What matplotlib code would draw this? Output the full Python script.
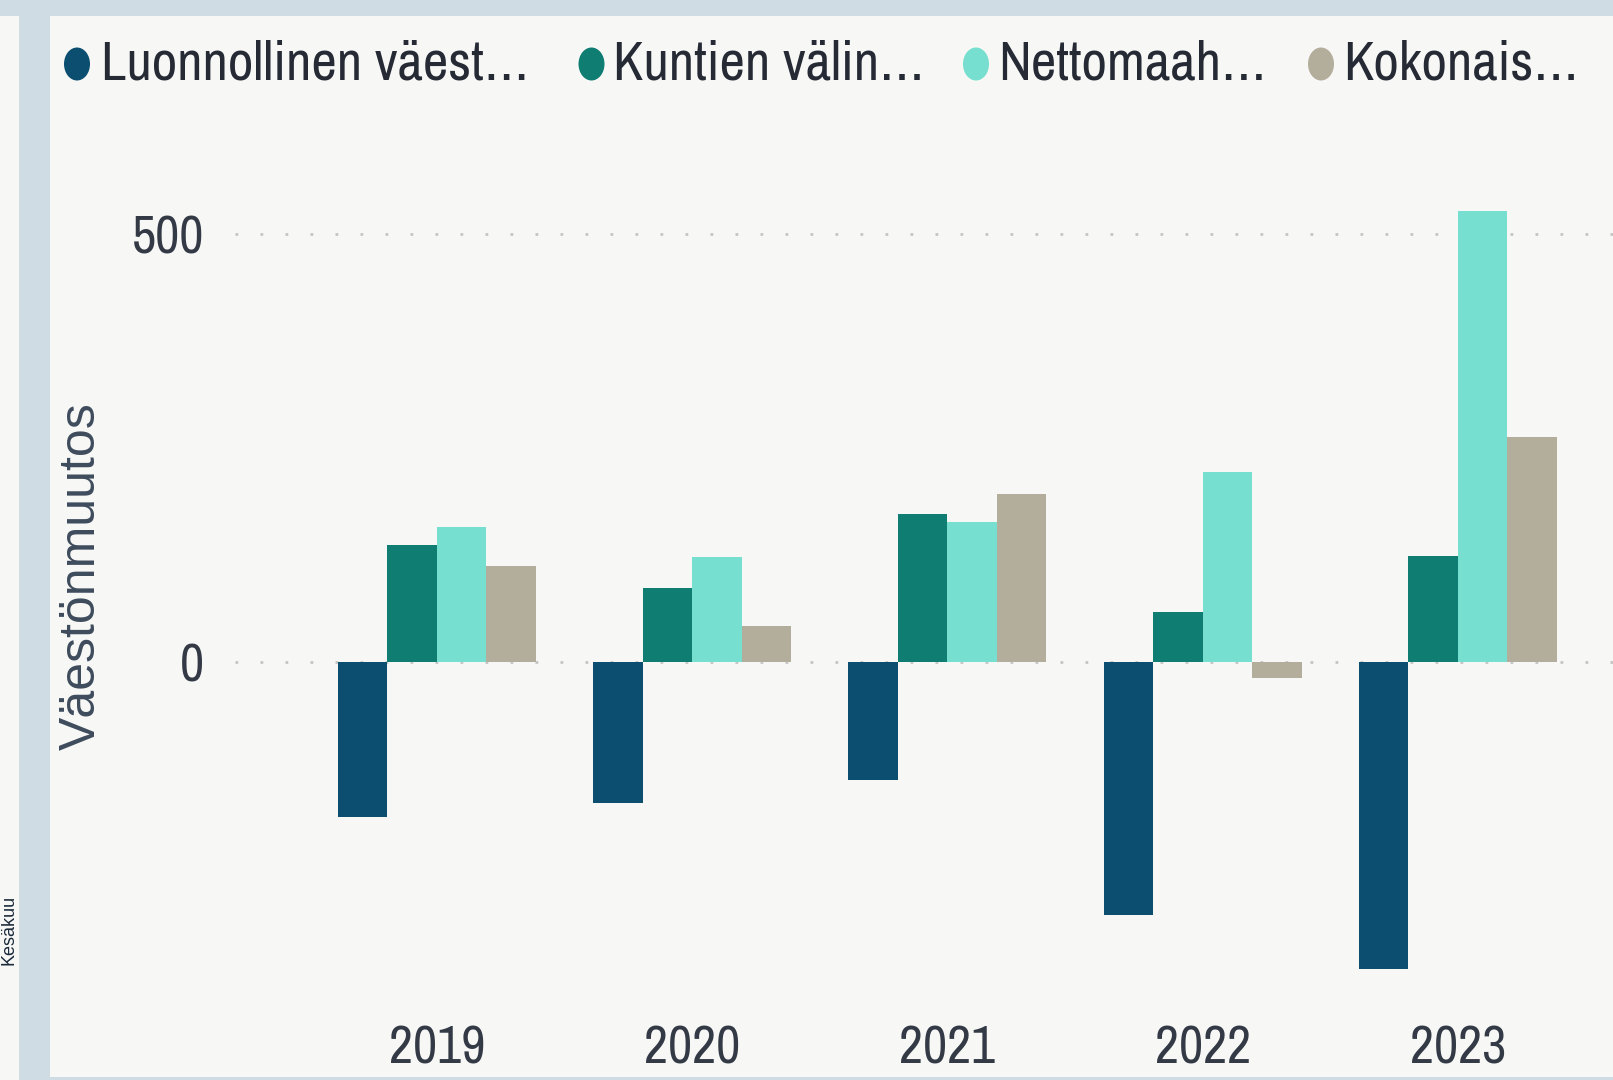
import matplotlib
matplotlib.use("Agg")
import matplotlib.pyplot as plt
import numpy as np
from matplotlib.patches import Rectangle, Ellipse

years = ["2019", "2020", "2021", "2022", "2023"]
series = [
    "Luonnollinen väest…",
    "Kuntien välin…",
    "Nettomaah…",
    "Kokonais…",
]
luonnollinen = [-182, -166, -139, -296, -360]
kuntien_valinen = [136, 86, 173, 58, 124]
nettomaahanmuutto = [158, 123, 164, 222, 528]
kokonais = [112, 42, 196, -19, 263]
values = [luonnollinen, kuntien_valinen, nettomaahanmuutto, kokonais]
y_ticks = [0, 500]

COLORS = ["#0b4e6f", "#0f7d72", "#77dfcf", "#b3ad9b"]
PANEL_BG = "#f7f7f6"
FRAME = "#d0dce3"
NARROW = ["Archivo Narrow", "Liberation Sans", "DejaVu Sans"]
W, H = 1613, 1080

fig = plt.figure(figsize=(W / 100, H / 100), dpi=100, facecolor=FRAME)

# report canvas pieces: left strip, main visual panel
fig.patches.append(Rectangle((0, 0), 19 / W, 1 - 16 / H, transform=fig.transFigure,
                             facecolor=PANEL_BG, edgecolor="none", zorder=-5))
fig.patches.append(Rectangle((50 / W, 3 / H), 1 - 50 / W, 1 - 19 / H, transform=fig.transFigure,
                             facecolor=PANEL_BG, edgecolor="none", zorder=-5))
fig.text(9 / W, 1 - 930 / H, "Kesäkuu", rotation=90, ha="center", va="center",
         fontsize=13, color="#1b2a3a", family="Liberation Sans")

ax = fig.add_axes([234.5 / W, 1 - 1000 / H, 1 - 234.5 / W, 880 / H])
ax.set_facecolor("none")

x = np.arange(len(years))
bw = 0.194
for i, (vals, col) in enumerate(zip(values, COLORS)):
    ax.bar(x + (i - 1.5) * bw, vals, width=bw, color=col, zorder=3, linewidth=0)

ax.set_xlim(-0.793, 4.608)
ax.set_ylim(-396, 634)
ax.set_yticks(y_ticks)
ax.set_yticklabels([str(t) for t in y_ticks], fontsize=38, color="#333a45", family=NARROW)
ax.set_xticks(x)
ax.set_xticklabels(years, fontsize=38, color="#333a45", family=NARROW)
ax.tick_params(axis="y", length=0, pad=22)
ax.tick_params(axis="x", length=0, pad=18)
ax.grid(axis="y", color="#c4c4c4", linestyle=(0, (1, 8)), linewidth=2, zorder=1)
ax.set_axisbelow(True)
for sp in ax.spines.values():
    sp.set_visible(False)

fig.text(82 / W, 1 - 576 / H, "Väestönmuutos", rotation=90, ha="center", va="center",
         fontsize=36, color="#3e4b5c", family="Liberation Sans")

# legend row (manual, Power BI style)
marker_x = [77, 591.5, 976, 1321]
text_x = [101, 613, 998, 1343]
for lab, col, mx, tx in zip(series, COLORS, marker_x, text_x):
    fig.patches.append(Ellipse((mx / W, 1 - 64 / H), 26 / W, 33 / H, transform=fig.transFigure,
                               facecolor=col, edgecolor="none"))
    fig.text(tx / W, 1 - 64 / H, lab, ha="left", va="center", fontsize=40,
             color="#252a35", family=NARROW)

fig.savefig("out.png", dpi=100, facecolor=fig.get_facecolor())
